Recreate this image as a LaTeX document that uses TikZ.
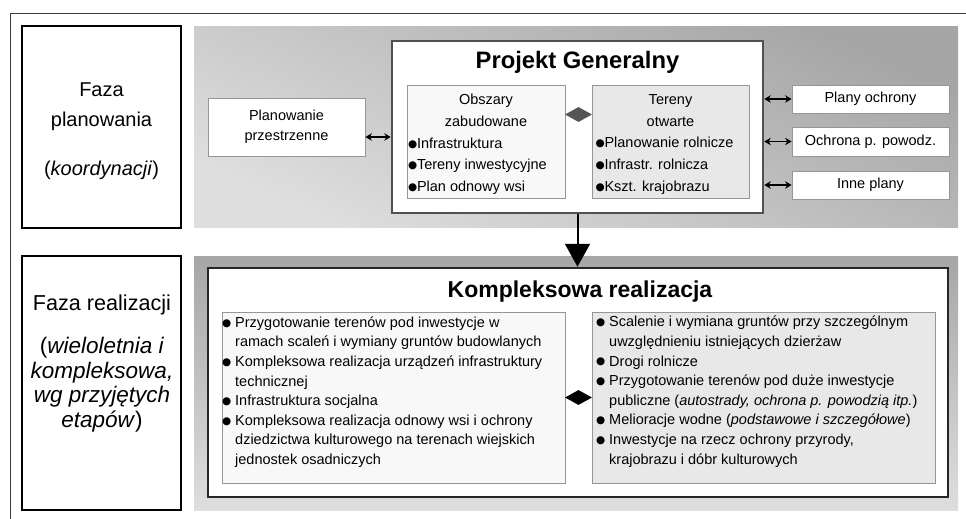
\documentclass[tikz,border=0pt]{standalone}
\usepackage{fontspec}
\setmainfont{Liberation Sans}
\newfontfamily\symfont{DejaVu Sans}
\usepackage{tikz}
\usetikzlibrary{arrows.meta, positioning, calc, shapes.geometric}
\newcommand\fs[2]{\fontsize{#1}{#2}\selectfont}
\newcommand\blt[1]{\makebox[#1][l]{\raisebox{1.2pt}{\symfont\fs{10.5}{12}●}}}
\newcommand\bitem[2]{\makebox[#1][l]{\blt{9pt}#2}}
\newcommand\bl{\blt{13pt}}
\newcommand\nb{\hspace*{13pt}}
\definecolor{myframe}{RGB}{60,60,60}
\definecolor{boxline}{RGB}{150,150,150}
\definecolor{lightfill}{RGB}{248,248,248}
\definecolor{midfill}{RGB}{232,232,232}
\definecolor{paneldark}{RGB}{166,166,166}
\definecolor{panellight}{RGB}{222,222,222}
\definecolor{projline}{RGB}{80,80,80}
\definecolor{diamgray}{RGB}{85,85,85}
\tikzset{
  outerframe/.style={draw=myframe, line width=1.3pt},
  phase/.style={rectangle, draw=black, fill=white, line width=2.5pt, inner sep=0pt},
  phasetxt/.style={align=center, inner sep=0pt},
  mainbox/.style={rectangle, draw=projline, fill=white, line width=2.5pt, inner sep=0pt},
  subbox/.style={rectangle, draw=boxline, line width=0.8pt, inner sep=0pt},
  subtxt/.style={inner sep=0pt, font=\fs{14.5}{21.7}, align=center},
  sidebox/.style={rectangle, draw=boxline, fill=white, line width=0.8pt, inner sep=0pt,
    font=\fs{14.5}{20}, align=center},
  listtxt/.style={align=left, inner sep=0pt, font=\fs{14.5}{19.6}, anchor=north west},
  titletxt/.style={font=\bfseries\fs{23}{27}, inner sep=0pt, anchor=base},
  dblarr/.style={{Stealth[length=6.5pt,width=7.5pt]}-{Stealth[length=6.5pt,width=7.5pt]}, line width=1.6pt},
  diam/.style={diamond, minimum width=27pt, minimum height=15pt, inner sep=0pt, draw=none},
  mainarr/.style={-{Triangle[length=23pt,width=25pt]}, line width=2pt}
}
\begin{document}
\begin{tikzpicture}[x=1pt, y=-1pt]
  \useasboundingbox (0,0) rectangle (966,519);
  \draw[outerframe] (966,13.5) -- (10.5,13.5) -- (10.5,519);

  % shaded panels
  \shade[top color=paneldark, bottom color=panellight, shading angle=-25] (194,27) rectangle (958,227);
  \shade[top color=paneldark, bottom color=panellight] (194,256) rectangle (958,510);

  % phases
  \node[phase, minimum width=159pt, minimum height=202pt] (fazaP) at (101.5,127) {};
  \node[phasetxt, font=\fs{20}{30}, anchor=north] (fazaPtxt) at (101.5,82.7)
    {Faza\\planowania\\[19pt](\textit{koordynacji})};
  \node[phase, minimum width=159pt, minimum height=254pt] (fazaR) at (101.5,383) {};
  \node[phasetxt, font=\fs{22.5}{24.7}, anchor=north] (fazaRtxt) at (102,294.5)
    {{\fs{21.6}{24.7}Faza realizacji}\\[18.3pt](\textit{wieloletnia i}\\\textit{kompleksowa,}\\\textit{wg przyjętych}\\\textit{etapów})};

  % planning
  \node[mainbox, minimum width=371pt, minimum height=172pt] (proj) at (577.5,127) {};
  \node[titletxt, font=\bfseries\fs{23.8}{27}] (projT) at (577.5,69) {Projekt Generalny};
  \node[subbox, fill=lightfill, minimum width=158pt, minimum height=113pt] (obsz) at (486,141.5) {};
  \node[subtxt, yshift=-3pt] (obszT) at (obsz.center)
    {Obszary\\zabudowane\\\bitem{156pt}{Infrastruktura}\\\bitem{156pt}{Tereny inwestycyjne}\\\bitem{156pt}{Plan odnowy wsi}};
  \node[subbox, fill=midfill, minimum width=157pt, minimum height=113pt] (teren) at (670.5,141.5) {};
  \node[subtxt, yshift=-3pt] (terenT) at (teren.center)
    {Tereny\\otwarte\\\bitem{150pt}{Planowanie rolnicze}\\\bitem{150pt}{Infrastr. rolnicza}\\\bitem{150pt}{Kszt. krajobrazu}};
  \node[sidebox, minimum width=157pt, minimum height=58pt] (plan) at (286.5,127) {Planowanie\\przestrzenne};
  \node[sidebox, minimum width=157pt, minimum height=28pt] (ochr) at (870.5,99) {Plany ochrony};
  \node[sidebox, minimum width=157pt, minimum height=29pt] (powodz) at (870.5,141.5) {Ochrona p. powodz.};
  \node[sidebox, minimum width=157pt, minimum height=28pt] (inne) at (870.5,185) {Inne plany};

  \draw[dblarr] ([yshift=-10pt]plan.east) -- ([yshift=-10pt]plan.east -| proj.west);
  \draw[dblarr] (proj.east |- ochr.west) -- (ochr.west);
  \draw[dblarr] (proj.east |- powodz.west) -- (powodz.west);
  \draw[dblarr] (proj.east |- inne.west) -- (inne.west);
  \path ([yshift=27pt]obsz.east) -- node[diam, fill=diamgray] (dmP) {} ([yshift=27pt]obsz.east -| teren.west);

  % realization
  \node[mainbox, draw=black!85, minimum width=740pt, minimum height=229pt] (kompl) at (578,382.5) {};
  \draw[mainarr] (proj.south) -- (proj.south |- kompl.north);
  \node[titletxt] (komplT) at (580,297) {Kompleksowa realizacja};
  \node[subbox, fill=lightfill, minimum width=343pt, minimum height=171pt] (listL) at (393.5,397.5) {};
  \node[subbox, fill=midfill, minimum width=343pt, minimum height=171pt] (listR) at (763.5,397.5) {};
  \node[listtxt] (listLtxt) at (222,316.5)
    {\bl Przygotowanie terenów pod inwestycje w\\
     \nb ramach scaleń i wymiany gruntów budowlanych\\
     \bl Kompleksowa realizacja urządzeń infrastruktury\\
     \nb technicznej\\
     \bl Infrastruktura socjalna\\
     \bl Kompleksowa realizacja odnowy wsi i ochrony\\
     \nb dziedzictwa kulturowego na terenach wiejskich\\
     \nb jednostek osadniczych};
  \node[listtxt] (listRtxt) at (596,316)
    {\bl Scalenie i wymiana gruntów przy szczególnym\\
     \nb uwzględnieniu istniejących dzierżaw\\
     \bl Drogi rolnicze\\
     \bl Przygotowanie terenów pod duże inwestycje\\
     \nb publiczne (\textit{autostrady, ochrona p. powodzią itp.})\\
     \bl Melioracje wodne (\textit{podstawowe i szczegółowe})\\
     \bl Inwestycje na rzecz ochrony przyrody,\\
     \nb krajobrazu i dóbr kulturowych};
  \path (listL.east) -- node[diam, fill=black] (dmR) {} (listR.west);
\end{tikzpicture}
\end{document}
